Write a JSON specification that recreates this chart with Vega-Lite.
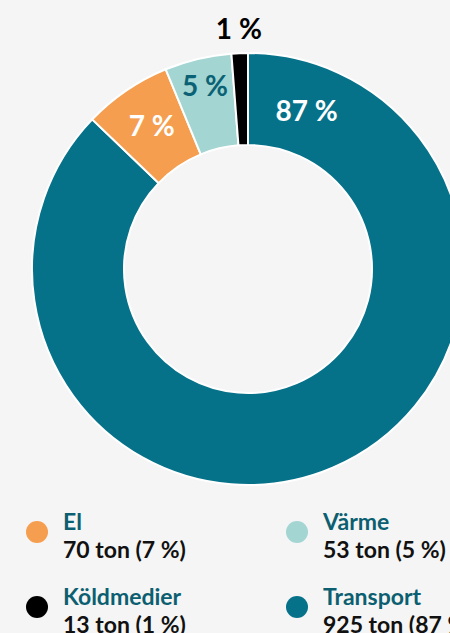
{
  "$schema": "https://vega.github.io/schema/vega-lite/v6.json",
  "background": "#f5f5f5",
  "padding": 0,
  "bounds": "flush",
  "spacing": 0,
  "config": {"view": {"stroke": null}, "font": "Lato", "axis": {"disable": true}},
  "datasets": {
    "emissions": [
      {"category": "Transport", "value": 925, "idx": 1, "pct": "87 %", "detail": "925 ton (87 %)"},
      {"category": "El", "value": 70, "idx": 2, "pct": "7 %", "detail": "70 ton (7 %)"},
      {"category": "Värme", "value": 53, "idx": 3, "pct": "5 %", "detail": "53 ton (5 %)"},
      {"category": "Köldmedier", "value": 13, "idx": 4, "pct": "1 %", "detail": "13 ton (1 %)"}
    ]
  },
  "vconcat": [
    {
      "width": 496,
      "height": 538,
      "data": {"name": "emissions"},
      "layer": [
        {
          "mark": {"type": "arc", "radius": 216, "radius2": 124, "stroke": "white", "strokeWidth": 2},
          "encoding": {
            "theta": {"field": "value", "type": "quantitative", "stack": true},
            "order": {"field": "idx", "type": "quantitative"},
            "color": {"field": "category", "type": "nominal", "scale": {"domain": ["Transport", "El", "Värme", "Köldmedier"], "range": ["#06728a", "#f59e4f", "#a3d5d2", "#000000"]}, "legend": null}
          }
        },
        {
          "mark": {"type": "text", "radius": 171, "fontSize": 28, "fontWeight": "bold", "fill": "white", "baseline": "middle"},
          "encoding": {
            "theta": {"field": "value", "type": "quantitative", "stack": true},
            "order": {"field": "idx", "type": "quantitative"},
            "text": {"condition": {"test": "datum.category === 'El'", "field": "pct", "type": "nominal"}, "value": ""}
          }
        },
        {
          "mark": {"type": "text", "radius": 186, "fontSize": 28, "fontWeight": "bold", "fill": "#0b6275", "baseline": "middle"},
          "encoding": {
            "theta": {"field": "value", "type": "quantitative", "stack": true},
            "order": {"field": "idx", "type": "quantitative"},
            "text": {"condition": {"test": "datum.category === 'Värme'", "field": "pct", "type": "nominal"}, "value": ""}
          }
        },
        {
          "mark": {"type": "text", "radius": 238, "fontSize": 28, "fontWeight": "bold", "fill": "#000000", "baseline": "middle"},
          "encoding": {
            "theta": {"field": "value", "type": "quantitative", "stack": true},
            "order": {"field": "idx", "type": "quantitative"},
            "text": {"condition": {"test": "datum.category === 'Köldmedier'", "field": "pct", "type": "nominal"}, "value": ""}
          }
        },
        {
          "transform": [{"filter": "datum.category === 'Transport'"}],
          "mark": {"type": "text", "radius": 167, "theta": 0.358, "fontSize": 28, "fontWeight": "bold", "fill": "white", "baseline": "middle"},
          "encoding": {
            "text": {"field": "pct", "type": "nominal"}
          }
        }
      ]
    },
    {
      "spacing": 186,
      "bounds": "flush",
      "hconcat": [
        {
          "width": 74,
          "height": 75,
          "data": {"name": "emissions"},
          "transform": [{"filter": "datum.category === 'El' || datum.category === 'Köldmedier'"}],
          "encoding": {
            "y": {"field": "category", "type": "nominal", "axis": null, "scale": {"domain": ["El", "Köldmedier"], "range": [-6, 69], "padding": 0}}
          },
          "layer": [
            {
              "mark": {"type": "circle", "size": 484, "opacity": 1},
              "encoding": {"color": {"field": "category", "type": "nominal", "legend": null}}
            },
            {
              "mark": {"type": "text", "align": "left", "baseline": "alphabetic", "dx": 26, "dy": -2, "fontSize": 23, "fontWeight": "bold", "fill": "#0b5f70"},
              "encoding": {"text": {"field": "category", "type": "nominal"}}
            },
            {
              "mark": {"type": "text", "align": "left", "baseline": "alphabetic", "dx": 26, "dy": 26, "fontSize": 23, "fontWeight": "bold", "fill": "#111111"},
              "encoding": {"text": {"field": "detail", "type": "nominal"}}
            }
          ]
        },
        {
          "width": 74,
          "height": 75,
          "data": {"name": "emissions"},
          "transform": [{"filter": "datum.category === 'Värme' || datum.category === 'Transport'"}],
          "encoding": {
            "y": {"field": "category", "type": "nominal", "axis": null, "scale": {"domain": ["Värme", "Transport"], "range": [-6, 69], "padding": 0}}
          },
          "layer": [
            {
              "mark": {"type": "circle", "size": 484, "opacity": 1},
              "encoding": {"color": {"field": "category", "type": "nominal", "legend": null}}
            },
            {
              "mark": {"type": "text", "align": "left", "baseline": "alphabetic", "dx": 26, "dy": -2, "fontSize": 23, "fontWeight": "bold", "fill": "#0b5f70"},
              "encoding": {"text": {"field": "category", "type": "nominal"}}
            },
            {
              "mark": {"type": "text", "align": "left", "baseline": "alphabetic", "dx": 26, "dy": 26, "fontSize": 23, "fontWeight": "bold", "fill": "#111111"},
              "encoding": {"text": {"field": "detail", "type": "nominal"}}
            }
          ]
        }
      ],
      "resolve": {"scale": {"y": "independent"}}
    }
  ]
}
